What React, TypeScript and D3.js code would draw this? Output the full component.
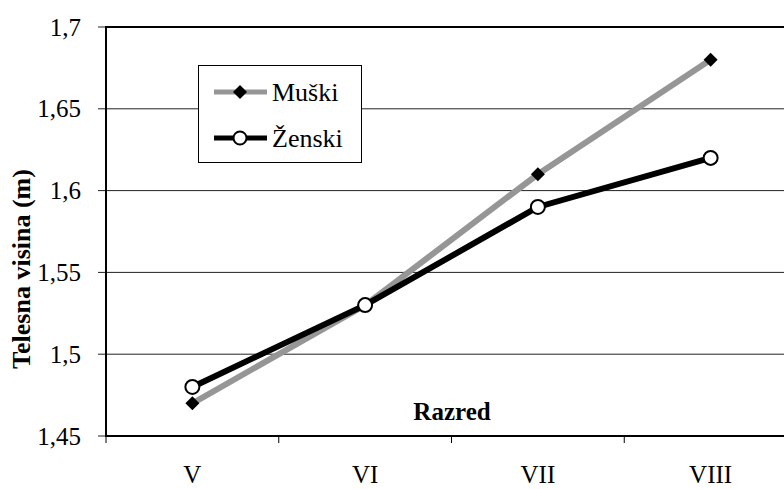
import React from "react";
import * as d3 from "d3";

const categories = ["V", "VI", "VII", "VIII"];
const muski = [1.47, 1.53, 1.61, 1.68];
const zenski = [1.48, 1.53, 1.59, 1.62];
const yTicks = [1.45, 1.5, 1.55, 1.6, 1.65, 1.7];
const seriesNames = ["Muški", "Ženski"];

const W = 784;
const H = 489;
const left = 106;
const right = 797;
const top = 27;
const bottom = 436;
const font = '"Liberation Serif", "Times New Roman", Times, serif';

export default function App() {
  const x = d3.scaleBand<string>().domain(categories).range([left, right]);
  const y = d3.scaleLinear().domain([1.45, 1.7]).range([bottom, top]);
  const cx = (c: string) => (x(c) as number) + x.bandwidth() / 2;
  const line = d3
    .line<number>()
    .x((_, i) => cx(categories[i]))
    .y((d) => y(d));
  const fmt = (v: number) => String(+v.toFixed(2)).replace(".", ",");
  const diamond = (px: number, py: number, s: number) =>
    `M${px},${py - s}L${px + s},${py}L${px},${py + s}L${px - s},${py}Z`;
  const ts: React.CSSProperties = { fontFamily: font };

  return (
    <svg
      width={W}
      height={H}
      style={{ position: "absolute", left: 0, top: 0, background: "#fff", fontFamily: font }}
    >
      {/* gridlines */}
      {yTicks.map((t) => (
        <line key={"g" + t} x1={left - 8} x2={W} y1={y(t)} y2={y(t)} stroke="#222" strokeWidth={1} />
      ))}
      {/* plot frame */}
      <line x1={left} x2={W} y1={top} y2={top} stroke="#000" strokeWidth={2} />
      <line x1={left} x2={W} y1={bottom} y2={bottom} stroke="#000" strokeWidth={2} />
      <line x1={left} x2={left} y1={top - 1} y2={bottom + 1} stroke="#000" strokeWidth={2} />
      {/* y tick labels */}
      {yTicks.map((t) => (
        <text key={"t" + t} x={81} y={y(t)} dy="0.34em" textAnchor="end" fontSize={25} style={ts} fill="#000">
          {fmt(t)}
        </text>
      ))}
      {/* x ticks */}
      {categories.map((c) => (
        <line
          key={"xt" + c}
          x1={x(c) as number}
          x2={x(c) as number}
          y1={bottom}
          y2={bottom + 7}
          stroke="#000"
          strokeWidth={1}
        />
      ))}
      {categories.map((c) => (
        <text key={"xl" + c} x={cx(c)} y={483} textAnchor="middle" fontSize={25} style={ts} fill="#000">
          {c}
        </text>
      ))}
      {/* axis titles */}
      <text x={452} y={420} textAnchor="middle" fontSize={25} fontWeight="bold" style={ts} fill="#000">
        Razred
      </text>
      <text
        transform={`translate(30,269) rotate(-90)`}
        textAnchor="middle"
        fontSize={26}
        fontWeight="bold"
        style={ts}
        fill="#000"
      >
        Telesna visina (m)
      </text>
      {/* series */}
      <path d={line(muski) || ""} fill="none" stroke="#969696" strokeWidth={6} />
      {muski.map((v, i) => (
        <path key={"m" + i} d={diamond(cx(categories[i]), y(v), 7)} fill="#000" />
      ))}
      <path d={line(zenski) || ""} fill="none" stroke="#000" strokeWidth={6} />
      {zenski.map((v, i) => (
        <circle key={"z" + i} cx={cx(categories[i])} cy={y(v)} r={7} fill="#fff" stroke="#000" strokeWidth={2} />
      ))}
      {/* legend */}
      <rect x={198.5} y={65.5} width={163} height={97} fill="#fff" stroke="#000" strokeWidth={1} />
      <line x1={214} x2={267} y1={92} y2={92} stroke="#969696" strokeWidth={5} />
      <path d={diamond(240, 92, 7)} fill="#000" />
      <text x={272} y={92} dy="0.34em" fontSize={26} style={ts} fill="#000">
        {seriesNames[0]}
      </text>
      <line x1={214} x2={267} y1={138} y2={138} stroke="#000" strokeWidth={5} />
      <circle cx={240} cy={138} r={6.5} fill="#fff" stroke="#000" strokeWidth={2} />
      <text x={272} y={138} dy="0.34em" fontSize={26} style={ts} fill="#000">
        {seriesNames[1]}
      </text>
    </svg>
  );
}
